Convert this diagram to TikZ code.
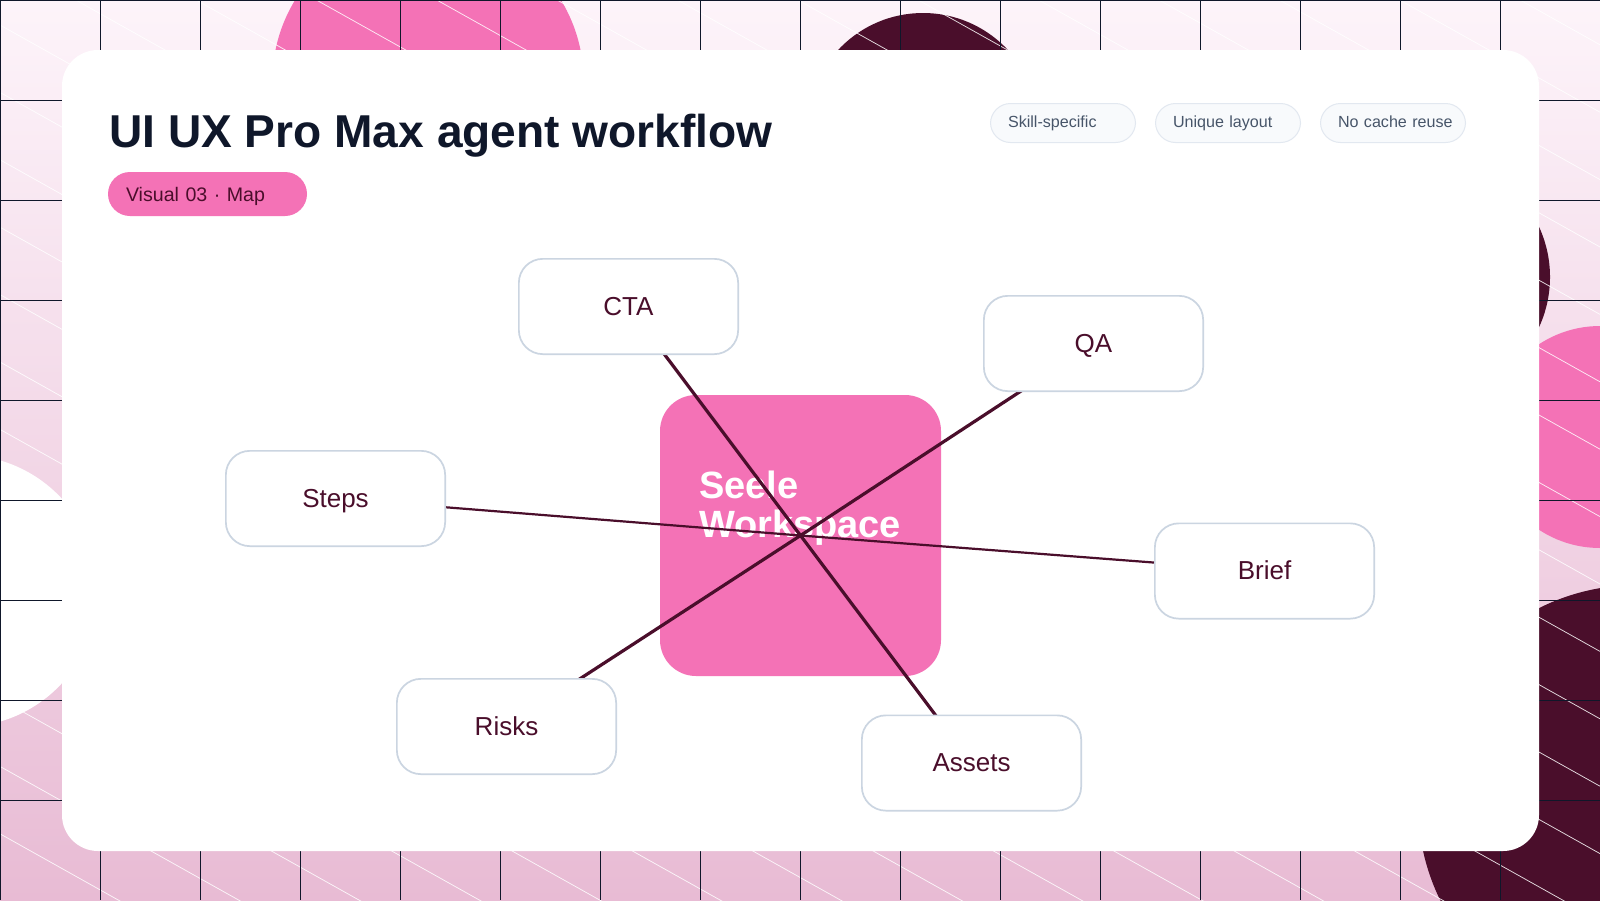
\documentclass[tikz,border=0pt]{standalone}
\usepackage{fontspec}
\setmainfont{Liberation Sans}
\usepackage{tikz}
\usetikzlibrary{positioning}
\definecolor{cPink}{HTML}{F472B6}
\definecolor{cWine}{HTML}{4A0E2B}
\definecolor{cNavy}{HTML}{0F172A}
\definecolor{cEdge}{HTML}{CBD5E1}
\definecolor{cChip}{HTML}{F8FAFC}
\definecolor{cChipEdge}{HTML}{E2E8F0}
\definecolor{cChipText}{HTML}{475569}
\definecolor{cTop}{HTML}{FDF4FA}
\definecolor{cBottom}{HTML}{E8BBD4}
\pgfdeclarelayer{back}
\pgfdeclarelayer{links}
\pgfsetlayers{back,links,main}
\tikzset{
  chip/.style={draw=cChipEdge, fill=cChip, line width=1pt, rounded corners=20pt, text=cChipText,
               font=\fontsize{16.1}{19}\selectfont, minimum height=39pt, text width=110pt,
               inner xsep=17.5pt, inner ysep=0pt, text height=12pt, text depth=4pt, align=left},
  spoke/.style={draw=cEdge, fill=white, line width=1.7pt, rounded corners=24pt, text=cWine,
                font=\fontsize{26}{30}\selectfont, minimum width=219.3pt, minimum height=95.3pt,
                inner sep=0pt, text height=19pt, text depth=2pt},
  link/.style={draw=cWine, line width=3.2pt},
  linkthin/.style={draw=cWine, line width=2.2pt}
}

\begin{document}
\begin{tikzpicture}[
  x=1pt, y=-1pt,
  hub/.style={fill=cPink, rounded corners=36pt, text=white, minimum size=281pt,
              font=\fontsize{38}{39.6}\selectfont\bfseries, text width=203pt, inner xsep=39pt,
              inner ysep=0pt, text height=27pt, text depth=102pt, align=left},
  tagpill/.style={fill=cPink, rounded corners=22pt, text=cWine, font=\fontsize{19.6}{24}\selectfont,
                  minimum height=44pt, text width=163pt, inner xsep=18pt, inner ysep=0pt,
                  text height=15pt, text depth=1pt, align=left},
  heading/.style={text=cNavy, font=\fontsize{46.1}{52}\selectfont\bfseries, inner sep=0pt}
]
\useasboundingbox (0,0) rectangle (1600,900);

% backdrop
\begin{pgfonlayer}{back}
\begin{scope}
  \clip (0,0) rectangle (1600,900);
  \shade[top color=cTop, bottom color=cBottom] (0,0) rectangle (1600,900);
  \fill[cPink] (428,81) circle[radius=155.6];
  \fill[cWine] (923,129) circle[radius=116];
  \fill[cWine] (1430,277) circle[radius=120];
  \fill[cPink] (1600,437) circle[radius=111];
  \fill[cWine] (1637,804) circle[radius=219];
  \fill[white] (-38,591) circle[radius=136];
  \foreach \k in {-15,...,13}{
    \draw[white, opacity=0.85, line width=0.75pt] (0,25+67.4*\k) -- (1600,25+67.4*\k+896);
  }
  \foreach \i in {0,100,...,1500}{
    \draw[cNavy, line width=1pt] (\i+0.5,0) -- (\i+0.5,900);
  }
  \foreach \i in {0,100,...,800}{
    \draw[cNavy, line width=1pt] (0,\i+0.5) -- (1600,\i+0.5);
  }
\end{scope}
\fill[white, rounded corners=36pt] (62,50) rectangle (1539,851);
\node[hub] (seele) at (800.5,535.5) {Seele\\Workspace};
\end{pgfonlayer}

\node[heading, anchor=base west] (title) at (109,147) {UI UX Pro Max agent workflow};
\node[tagpill] (visual) at (207.5,194) {Visual 03 · Map};

\node[chip] (skill) at (1063,123) {\mbox{Skill-specific}};
\node[chip, right=19pt of skill] (layout) {\mbox{Unique layout}};
\node[chip, right=19pt of layout] (cache) {\mbox{No cache reuse}};

\node[spoke] (cta)    at (628.5,306.5)  {CTA};
\node[spoke] (qa)     at (1093.5,343.5) {QA};
\node[spoke] (steps)  at (335.5,498.5)  {Steps};
\node[spoke] (brief)  at (1264.5,571)   {Brief};
\node[spoke] (risks)  at (506.5,726.5)  {Risks};
\node[spoke] (assets) at (971.5,763)    {Assets};

\begin{pgfonlayer}{links}
\foreach \a in {cta,qa,risks,assets}{
  \draw[link] (seele.center) -- (\a.center);
}
\foreach \a in {steps,brief}{
  \draw[linkthin] (seele.center) -- (\a.center);
}
\end{pgfonlayer}

\end{tikzpicture}
\end{document}
